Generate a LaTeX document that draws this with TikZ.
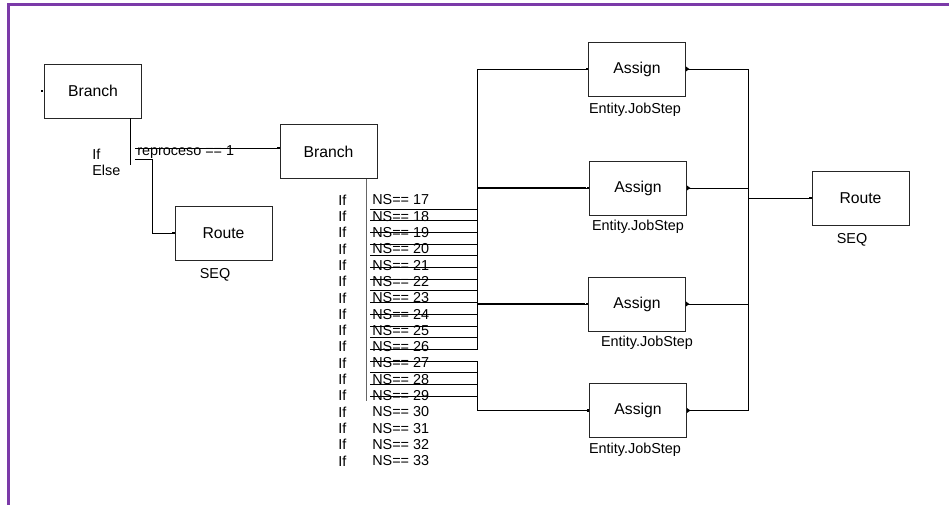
\documentclass[tikz,border=0pt]{standalone}
\usepackage{fontspec}
\setmainfont{Liberation Sans}
\usetikzlibrary{arrows.meta, positioning, calc}
\definecolor{framepurple}{RGB}{123,58,168}

\begin{document}
\begin{tikzpicture}[x=0.75pt, y=-0.75pt, >=Stealth]
    \tikzset{modbox/.style={rectangle, draw=black!85, line width=0.6pt, minimum width=72.75pt, minimum height=40.5pt, inner sep=0pt, font=\fontsize{11.8}{14}\selectfont},
        lbl/.style={inner sep=0pt, font=\fontsize{10.8}{12}\selectfont},
        wire/.style={line width=0.6pt},
        conn/.style={wire, -{Square[length=1.8pt, width=1.8pt]}},
        feed/.style={line width=1.3pt}}
    \useasboundingbox (0,0) rectangle (949,505);
    % frame
    \draw[framepurple, line width=2.25pt] (8,505) -- (8,5) -- (949,5);

    % modules
    \node[modbox] (br1) at (93,91) {Branch};
    \node[modbox] (br2) at (328.5,151.5) {Branch};
    \node[modbox] (rt1) at (223.5,233) {Route};
    \node[modbox] (as1) at (637,69) {Assign};
    \node[modbox] (as2) at (638,188) {Assign};
    \node[modbox] (as3) at (637,304) {Assign};
    \node[modbox] (as4) at (638,410.5) {Assign};
    \node[modbox] (rt2) at (860.5,198) {Route};

    \node[lbl] (seq1) at (215,275) {SEQ};
    \node[lbl] (seq2) at (852,240) {SEQ};
    \node[lbl] (job1) at (635,110) {Entity.JobStep};
    \node[lbl] (job2) at (638,227) {Entity.JobStep};
    \node[lbl] (job3) at (647,343) {Entity.JobStep};
    \node[lbl] (job4) at (635,450) {Entity.JobStep};

    % first branch
    \fill ($(br1.west)+(-3,-1)$) rectangle ++(2,2);
    \draw[wire] ($(br1.south east)+(-12,0)$) -- ++(0,47);
    \node[lbl, anchor=west] (ifa) at (92,154) {If};
    \node[lbl, anchor=west] (elsea) at (92,170) {Else};
    \node[lbl, anchor=west] (cond) at (137,152) {reproceso\hspace{3pt}==\hspace{3pt}1};
    \coordinate (x1) at (135,148);
    \coordinate (x2) at (135,159);
    \draw[conn] (x1) -- (x1 -| br2.west);
    \draw[conn] (x2) -- ++(17,0) |- (rt1.west);

    % second branch
    \draw[wire, black!60] ($(br2.south east)+(-11,0)$) -- ++(0,222);
    \foreach \n [count=\i from 0] in {17,...,33} {
        \node[lbl, anchor=west] (if\n) at (338,{200+16.3*\i}) {If};
        \node[lbl, anchor=west] (ns\n) at (372,{200+16.3*\i}) {NS==\hspace{3pt}\n};
    }
    \foreach \i in {0,...,16}
        \coordinate (e\i) at (370,{209+11.7*\i});
    \coordinate (busL) at (477,200);
    \foreach \i/\k in {0/1,1/1,2/1,3/1,4/2,5/2,6/2,7/2,8/2,9/3,10/3,11/3,12/3,13/4,14/4,15/4,16/4}
        \draw[conn] (e\i) -| (busL |- as\k.west) -- (as\k.west);
    \foreach \k in {2,3,4}
        \draw[feed] (busL |- as\k.west) -- ($(as\k.west)+(-3,0)$);

    % to the last route
    \coordinate (busR) at (748,198);
    \foreach \k in {1,...,4} {
        \fill (as\k.east) ++(0,-2.5) -- ++(3.5,2.5) -- ++(-3.5,2.5) -- cycle;
        \draw[conn] (as\k.east) -| (busR) -- (rt2.west);
    }
\end{tikzpicture}
\end{document}
